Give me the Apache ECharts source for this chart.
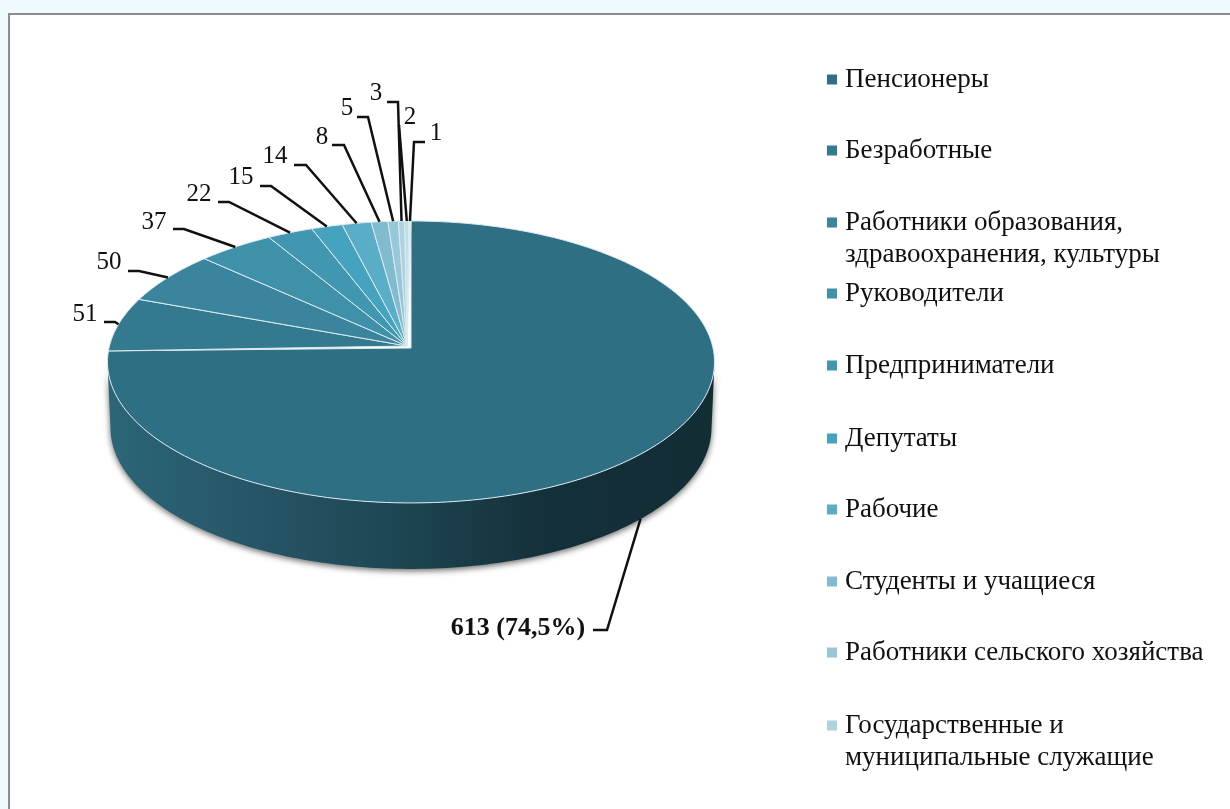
<!DOCTYPE html>
<html><head><meta charset="utf-8">
<style>html,body{margin:0;padding:0;background:#fff}#c{width:1230px;height:809px}</style>
<script src="https://cdn.jsdelivr.net/npm/echarts@6/dist/echarts.min.js"></script>
</head><body><div id="c"></div>
<script>
// ---- data ----
const categories = ['Пенсионеры','Безработные','Работники образования,\nздравоохранения, культуры','Руководители','Предприниматели','Депутаты','Рабочие','Студенты и учащиеся','Работники сельского хозяйства','Государственные и\nмуниципальные служащие'];
const values = [613,51,50,37,22,15,14,8,5,3,2,1];
const valueLabels = ['613 (74,5%)','51','50','37','22','15','14','8','5','3','2','1'];
const sliceColors = ['#2f6f83','#337a90','#3a859d','#3f90a9','#4196b0','#46a3bf','#5aadc6','#80bbd0','#98c7d8','#aed2e0','#c4dee8','#d8eaf0'];
// ---- layout (not data) ----
const FONT = '"Liberation Serif","Times New Roman",serif';
const CX = 411, CY = 348, A = 302, B = 139.6, K = 0.099, DEPTH = 66;
const legendY = [79,150,222,293,365,438,509,581,652,725];
// text centre [x,y], leader start [x,y], elbow [x,y]
const labelLayout = [
 [518,628,[593,630],[607,630]],
 [85,314,[104,322],[115,322]],
 [109,262,[128,271],[139,271]],
 [154,222,[173,229],[184,229]],
 [199,194,[218,202],[229,202]],
 [241,177,[260,186],[271,186]],
 [275,156,[294,165],[306,165]],
 [322,137,[332,145],[344,145]],
 [347,108,[357,117],[368,117]],
 [376,93,[387,102],[398,102]],
 [410,117,[399,125],[399,125]],
 [436,133,[425,142],[414,142]]
];
const total = values.reduce((a,b)=>a+b,0);
const startFrac = [];
values.reduce((acc,v,i)=>{startFrac[i]=acc/total;return acc+v;},0);

function proj(theta, dy, scale){
  const u = Math.sin(theta), v = Math.cos(theta), s = 1/(1+K*v);
  return [CX + A*(scale||1)*u*s, CY - B*v*s + (dy||0)];
}
function arc(t0,t1,dy,scale){
  const n = Math.max(2,Math.ceil(Math.abs(t1-t0)/0.02)), pts=[];
  for(let i=0;i<=n;i++) pts.push(proj(t0+(t1-t0)*i/n,dy,scale));
  return pts;
}
const FRONT0 = 97*Math.PI/180, FRONT1 = 263*Math.PI/180;
function makeRender(i){
  return function(params, api){
    const val = api.value(0);
    const t0 = startFrac[i]*2*Math.PI, t1 = t0 + val/total*2*Math.PI;
    const kids = [];
    const a0 = Math.max(t0,FRONT0), a1 = Math.min(t1,FRONT1);
    if(a1>a0){
      kids.push({type:'polygon',silent:true,shape:{points:arc(a0,a1,0).concat(arc(a1,a0,DEPTH,0.99))},
        style:{fill:new echarts.graphic.LinearGradient(108,0,715,0,[
          {offset:0,color:'#2b6677'},{offset:0.2,color:'#27586a'},{offset:0.45,color:'#1e4855'},
          {offset:0.72,color:'#14303a'},{offset:1,color:'#132d35'}],true),
          shadowBlur:6,shadowColor:'rgba(0,0,0,0.6)',shadowOffsetY:2}});
    }
    const apex = i===0 ? [CX,CY] : [CX-4,CY-2];
    kids.push({type:'polygon',silent:true,shape:{points:[apex].concat(arc(t0,t1,0))},
      style:{fill:sliceColors[i],stroke:'#dcebf0',lineWidth:1,lineJoin:'round'}});
    const mid=(t0+t1)/2, front = mid>FRONT0 && mid<FRONT1;
    const end = proj(mid, front?DEPTH:0, front?0.99:1);
    const L = labelLayout[i];
    kids.push({type:'polyline',silent:true,z2:50,shape:{points:[L[2],L[3],end]},
      style:{fill:null,stroke:'#111',lineWidth:2.5}});
    kids.push({type:'text',silent:true,z2:60,x:L[0],y:L[1],
      style:{text:valueLabels[i],fill:'#111',font:(i===0?'bold 26px ':'25px ')+FONT,align:'center',verticalAlign:'middle'}});
    return {type:'group',children:kids};
  };
}
const series = values.map((v,i)=>({
  type:'custom',coordinateSystem:'none',name:categories[i]||String(v),
  itemStyle:{color:sliceColors[i]},z:i===0?2:3,
  renderItem:makeRender(i),data:[[v]],silent:true,clip:false,animation:false
}));
const legends = categories.map((c,i)=>({
  data:[c],left:827,top:legendY[i]-13,orient:'vertical',padding:0,itemWidth:10,itemHeight:10,
  icon:'rect',selectedMode:false,
  formatter:n=>n.split('\n')[0],
  textStyle:{fontFamily:FONT,fontSize:27,color:'#111',padding:[0,0,0,3]}
}));
const secondLines = [];
categories.forEach((c,i)=>{const p=c.split('\n');if(p[1])secondLines.push({type:'text',left:845,top:legendY[i]+19,style:{text:p[1],fill:'#111',font:'27px '+FONT}});});
const chart = echarts.init(document.getElementById('c'),null,{renderer:'canvas'});
chart.setOption({
  backgroundColor:'#fff',animation:false,
  legend:legends,
  graphic:[
    {type:'rect',z:-1,shape:{x:0,y:0,width:8,height:809},style:{fill:'#eefafe'}},
    {type:'rect',z:-1,shape:{x:0,y:0,width:1230,height:13},style:{fill:'#eefafe'}},
    {type:'rect',z:-1,shape:{x:8,y:13,width:1222,height:2},style:{fill:'#8b8d8d'}},
    {type:'rect',z:-1,shape:{x:8,y:13,width:2,height:796},style:{fill:'#8b8d8d'}}
  ].concat(secondLines),
  series
});
</script></body></html>
